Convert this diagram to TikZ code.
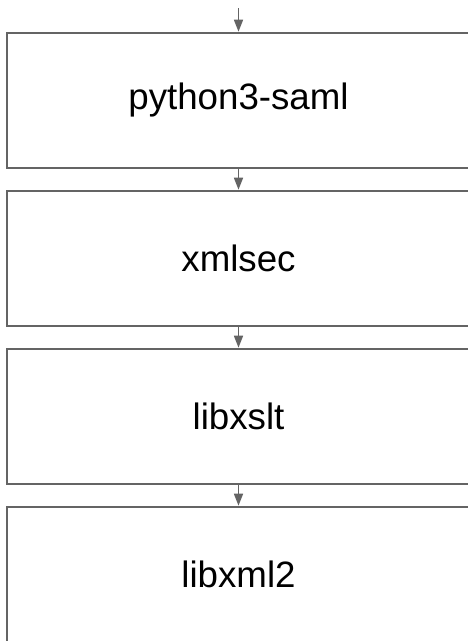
\documentclass[tikz,border=0pt]{standalone}
\usepackage{fontspec}
\setmainfont{Liberation Sans}
\usetikzlibrary{arrows.meta}
\definecolor{bordo}{HTML}{646464}

\begin{document}
\begin{tikzpicture}[x=1pt,y=-1pt,
    blocco/.style={draw=bordo, line width=2pt, minimum width=463pt, minimum height=135pt, inner sep=0pt, font=\fontsize{36.7}{44}\selectfont},
    freccia/.style={draw=bordo, line width=1.5pt, -{Triangle[length=12pt,width=9pt]}}]
    % Area visibile
    \useasboundingbox (0,0) rectangle (468,641);
    \clip (0,0) rectangle (468,641);

    % Ingresso
    \coordinate (in) at (238.5,8);

    % Blocchi
    \node[blocco] (saml) at (238.5,100.2) {python3-saml};
    \node[blocco] (xmlsec) at (238.5,258.2) {xmlsec};
    \node[blocco] (xslt) at (238.5,416.2) {libxslt};
    \node[blocco] (xml) at (238.5,574.2) {libxml2};

    % Frecce
    \draw[freccia] (in) -- (saml.north);
    \draw[freccia] (saml.south) -- (xmlsec.north);
    \draw[freccia] (xmlsec.south) -- (xslt.north);
    \draw[freccia] (xslt.south) -- (xml.north);
\end{tikzpicture}
\end{document}
